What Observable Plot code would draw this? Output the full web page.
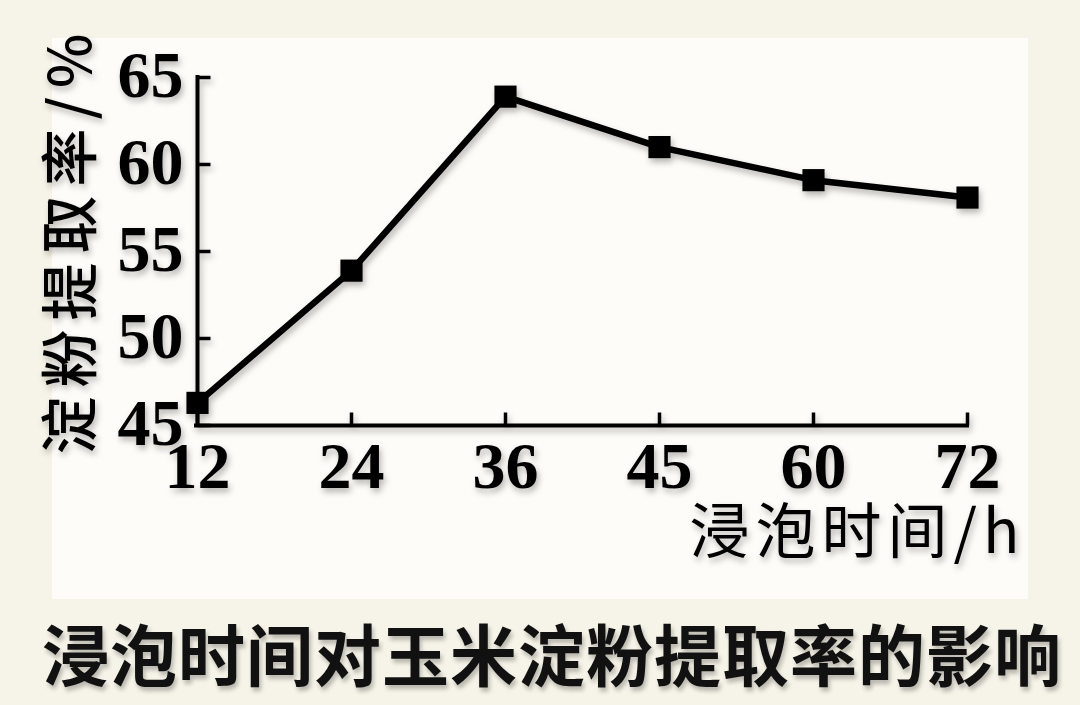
<!DOCTYPE html>
<html>
<head>
<meta charset="utf-8">
<script src="https://cdn.jsdelivr.net/npm/d3@7"></script>
<script src="https://cdn.jsdelivr.net/npm/@observablehq/plot@0.6"></script>
<style>
  html, body { margin: 0; padding: 0; }
  body { width: 1080px; height: 705px; background: #f6f4e8; position: relative; overflow: hidden; }
  #panel { position: absolute; left: 52px; top: 38px; width: 976px; height: 561px; background: #fdfcf8; }
  #chart { position: absolute; left: 0; top: 0; }
  #chart svg { filter: drop-shadow(2px 4px 3px rgba(0,0,0,0.28)); overflow: visible; }
  .ylab text { letter-spacing: 9px; }
  .xlab text { letter-spacing: 6px; }
  #title { position: absolute; left: 12px; width: 1080px; top: 612px; text-align: center;
    font-family: "Noto Sans CJK SC", sans-serif; font-weight: 700; font-size: 67px; line-height: 80px;
    color: #111; letter-spacing: 1px; text-shadow: 2px 4px 4px rgba(0,0,0,0.25); }
</style>
</head>
<body>
<div id="panel"></div>
<div id="chart"></div>
<div id="title">浸泡时间对玉米淀粉提取率的影响</div>
<script>
const hours = ["12", "24", "36", "45", "60", "72"];
const rates = [46.3, 53.9, 63.9, 61.0, 59.1, 58.1];
const yTicks = [45, 50, 55, 60, 65];
const yLabel = "淀粉提取率/%";
const xLabel = "浸泡时间/h";

const data = hours.map((h, i) => ({hour: h, rate: rates[i]}));
const serif = "'Liberation Serif', 'DejaVu Serif', serif";
const cjk = "'Noto Sans CJK SC', sans-serif";

// a plain straight tick shape for vector marks
const tickShape = {draw(context, l) { context.moveTo(0, 0); context.lineTo(0, -l); }};

const chart = Plot.plot({
  width: 1080,
  height: 600,
  marginLeft: 196,
  marginRight: 113,
  marginTop: 77,
  marginBottom: 175,
  style: {background: "transparent", color: "#000"},
  x: {type: "point", domain: hours, padding: 0},
  y: {domain: [45, 65]},
  marks: [
    // axis lines
    Plot.ruleX([hours[0]], {y1: 45, y2: 65, stroke: "#000", strokeWidth: 4, strokeLinecap: "square"}),
    Plot.ruleY([45], {stroke: "#000", strokeWidth: 4, strokeLinecap: "square"}),
    // inward ticks
    Plot.vector(yTicks, {x: () => hours[0], y: d => d, length: 13, rotate: 90, anchor: "start",
      shape: tickShape, stroke: "#000", strokeWidth: 3.5, strokeLinecap: "butt"}),
    Plot.vector(hours, {x: d => d, y: () => 45, length: 13, rotate: 0, anchor: "start",
      shape: tickShape, stroke: "#000", strokeWidth: 3.5, strokeLinecap: "butt"}),
    // tick labels
    Plot.axisY(yTicks, {tickSize: 0, tickPadding: 13, fontSize: 66, fontFamily: serif, fontWeight: "bold", label: null, fill: "#000", dy: -2}),
    Plot.axisX(hours, {tickSize: 0, tickPadding: 16, fontSize: 66, fontFamily: serif, fontWeight: "bold", label: null, fill: "#000"}),
    // data
    Plot.line(data, {x: "hour", y: "rate", stroke: "#000", strokeWidth: 6.5, strokeLinejoin: "miter"}),
    Plot.dot(data, {x: "hour", y: "rate", symbol: "square", r: 12.5, fill: "#000", stroke: "none"}),
    // axis titles
    Plot.text([yLabel], {frameAnchor: "left", dx: -124, dy: -12, rotate: -90, textAnchor: "middle", fontSize: 58,
      fontFamily: cjk, fontWeight: 500, fill: "#000", className: "ylab"}),
    Plot.text([xLabel], {frameAnchor: "bottom-right", dx: 58, dy: 127, textAnchor: "end", fontSize: 60,
      fontFamily: cjk, fontWeight: 400, fill: "#000", className: "xlab"})
  ]
});
document.getElementById("chart").appendChild(chart);
</script>
</body>
</html>
